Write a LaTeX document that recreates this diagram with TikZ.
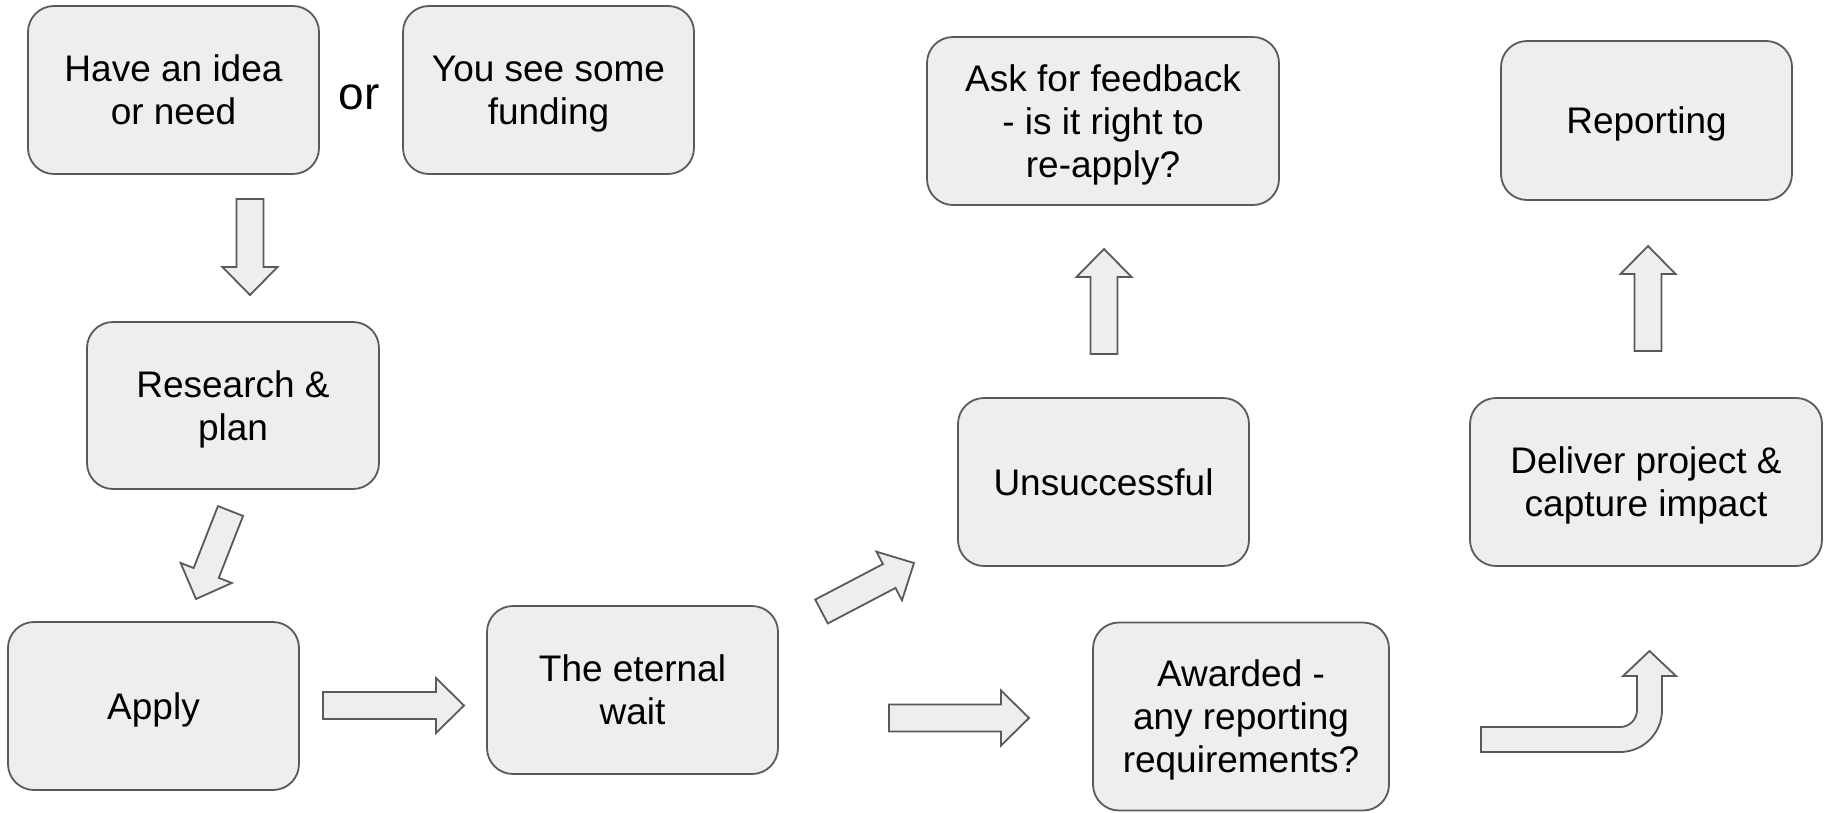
\documentclass[tikz,border=0pt]{standalone}
\usepackage{fontspec}
\setmainfont{Liberation Sans}
\usetikzlibrary{calc}
\definecolor{boxfill}{HTML}{EEEEEE}
\definecolor{boxline}{HTML}{5A5A5A}
\newcommand{\hstrut}{\rule{0pt}{36pt}}
\newcommand{\dstrut}{\rule[-9.4pt]{0pt}{9.4pt}}
\tikzset{
  box/.style={draw=boxline, fill=boxfill, line width=1.8pt, rounded corners=26pt,
    align=center, inner sep=0pt, font=\fontsize{37}{43}\selectfont},
  barrowstyle/.style={draw=boxline, fill=boxfill, line width=1.8pt, line join=miter},
}
\newcommand{\blockarrow}[2]{%
  \coordinate (hb) at ($(#2)!28pt!(#1)$);
  \draw[barrowstyle] ($(#1)!13.5pt!90:(#2)$) -- ($(hb)!13.5pt!90:(#2)$) -- ($(hb)!27.5pt!90:(#2)$)
    -- (#2) -- ($(hb)!27.5pt!-90:(#2)$) -- ($(hb)!13.5pt!-90:(#2)$) -- ($(#1)!13.5pt!-90:(#2)$) -- cycle;
}
\begin{document}
\begin{tikzpicture}[x=1pt,y=-1pt]
\useasboundingbox (0,0) rectangle (1827,812);
\node[box, minimum width=291pt, minimum height=168pt] (idea) at (173.5,90) {\hstrut Have an idea\\or need\dstrut};
\node[box, minimum width=291pt, minimum height=168pt] (fund) at (548.5,90) {\hstrut You see some\\funding\dstrut};
\node[font=\fontsize{46}{50}\selectfont] (or) at (359,97) {or};
\node[box, minimum width=292pt, minimum height=167pt] (research) at (233,405.5) {\hstrut Research \&\\plan\dstrut};
\node[box, minimum width=291pt, minimum height=168pt] (apply) at (153.5,706) {\hstrut Apply\dstrut};
\node[box, minimum width=291pt, minimum height=168pt] (wait) at (632.5,690) {\hstrut The eternal\\wait\dstrut};
\node[box, minimum width=291pt, minimum height=168pt] (unsucc) at (1103.5,482) {\hstrut Unsuccessful\dstrut};
\node[box, minimum width=352pt, minimum height=168pt] (feedback) at (1103,121) {\hstrut Ask for feedback\\- is it right to\\re-apply?\dstrut};
\node[box, minimum width=296pt, minimum height=188pt] (awarded) at (1241,716.5) {\hstrut Awarded -\\any reporting\\requirements?\dstrut};
\node[box, minimum width=352pt, minimum height=168pt] (deliver) at (1646,482) {\hstrut Deliver project \&\\capture impact\dstrut};
\node[box, minimum width=291pt, minimum height=159pt] (report) at (1646.5,120.5) {\hstrut Reporting\dstrut};

\coordinate (a1s) at (250,199);   \coordinate (a1e) at (250,295);
\coordinate (a2s) at (230.5,511); \coordinate (a2e) at (196,599);
\coordinate (a3s) at (323,705.5); \coordinate (a3e) at (464,705.5);
\coordinate (a4s) at (821.5,611.5); \coordinate (a4e) at (914,563);
\coordinate (a5s) at (1104,354);  \coordinate (a5e) at (1104,249);
\coordinate (a6s) at (889,718);   \coordinate (a6e) at (1029,718);
\coordinate (a7s) at (1648,351);  \coordinate (a7e) at (1648,246);
\blockarrow{a1s}{a1e}
\blockarrow{a2s}{a2e}
\blockarrow{a3s}{a3e}
\blockarrow{a4s}{a4e}
\blockarrow{a5s}{a5e}
\blockarrow{a6s}{a6e}
\blockarrow{a7s}{a7e}
% bent arrow
\draw[barrowstyle] (1481,727) -- (1620,727) .. controls (1629.4,727) and (1637,719.4) .. (1637,710)
  -- (1637,676) -- (1623,676) -- (1649.5,651) -- (1676,676) -- (1662,676) -- (1662,710)
  .. controls (1662,733.2) and (1643.2,752) .. (1620,752) -- (1481,752) -- cycle;
\end{tikzpicture}
\end{document}
